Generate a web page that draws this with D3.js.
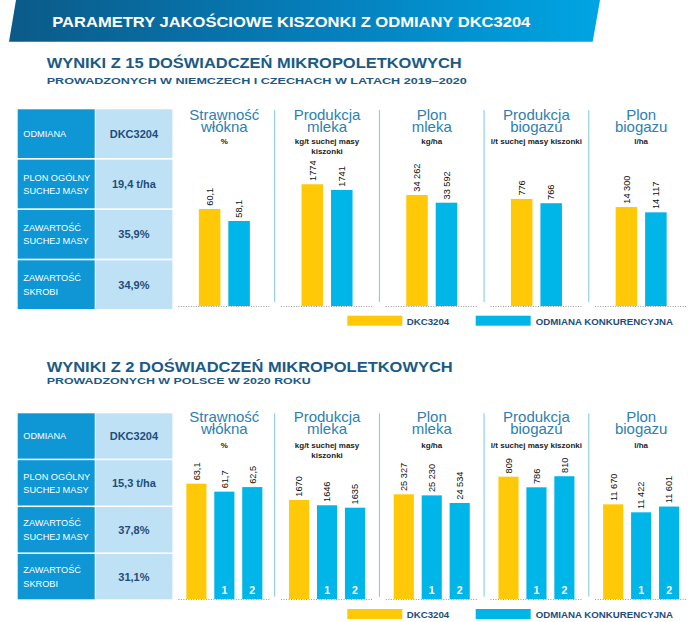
<!DOCTYPE html>
<html><head><meta charset="utf-8">
<script src="https://cdn.jsdelivr.net/npm/d3@7"></script>
<style>body{margin:0;background:#fff}svg{display:block}text{font-family:"Liberation Sans",Arial,sans-serif}</style>
</head><body><svg id="c" width="700" height="622"></svg>
<script>
// ---- data ----
const panelTitles = [["Strawność","włókna"],["Produkcja","mleka"],["Plon","mleka"],["Produkcja","biogazu"],["Plon","biogazu"]];
const panelUnits = [["%"],["kg/t suchej masy","kiszonki"],["kg/ha"],["l/t suchej masy kiszonki"],["l/ha"]];
const seriesNames = ["DKC3204","ODMIANA KONKURENCYJNA"];
const tableLabels = [["ODMIANA"],["PLON OGÓLNY","SUCHEJ MASY"],["ZAWARTOŚĆ","SUCHEJ MASY"],["ZAWARTOŚĆ","SKROBI"]];
const table1Values = ["DKC3204","19,4 t/ha","35,9%","34,9%"];
const table2Values = ["DKC3204","15,3 t/ha","37,8%","31,1%"];
const s1DKC  = [60.1, 1774, 34262, 776, 14300];
const s1Comp = [58.1, 1741, 33592, 766, 14117];
const s2DKC   = [63.1, 1670, 25327, 809, 11670];
const s2Comp1 = [61.7, 1646, 25230, 786, 11422];
const s2Comp2 = [62.5, 1635, 24534, 810, 11601];
const compLabels = ["1","2"];
// truncated (broken) value axes of each small panel
const s1Domains = [[43.93,68.93],[1069,1937.6],[24602,37657],[527,875.8],[10882,16062]];
const s2Domains = [[42.9,69.17],[1220,1901.8],[15783,29457],[543.7,869.1],[8735,13385]];

// ---- style ----
const YEL = "#ffc907", BLU = "#00b5e8", DARK = "#1b5a86", TITLEBLUE = "#2c80b3";
const svg = d3.select("#c");
const defs = svg.append("defs");
const grad = defs.append("linearGradient").attr("id","hg").attr("x1","0").attr("x2","1");
grad.append("stop").attr("offset","0").attr("stop-color","#0b5a88");
grad.append("stop").attr("offset","0.55").attr("stop-color","#0580bd");
grad.append("stop").attr("offset","1").attr("stop-color","#00a5e3");

// header banner
svg.append("path").attr("d","M16,0 L600,0 L592.7,41.7 L9,41.7 Z").attr("fill","url(#hg)");
svg.append("text").attr("x",52.3).attr("y",27.3).attr("fill","#fff").attr("font-weight","bold")
  .attr("font-size",14.8).attr("textLength",478).attr("lengthAdjust","spacingAndGlyphs")
  .text("PARAMETRY JAKOŚCIOWE KISZONKI Z ODMIANY DKC3204");

const fmt = v => (v % 1) ? v.toFixed(1).replace(".", ",") :
  (v >= 10000 ? d3.format(",")(v).replace(/,/g, " ") : String(v));

const px = d3.scaleBand().domain(d3.range(5)).range([170, 693.5]);

function section(cfg) {
  // titles
  svg.append("text").attr("x",46.7).attr("y",cfg.titleY).attr("fill",DARK).attr("font-weight","bold")
    .attr("font-size",14).attr("textLength",cfg.titleW).attr("lengthAdjust","spacingAndGlyphs").text(cfg.title);
  svg.append("text").attr("x",46.7).attr("y",cfg.subY).attr("fill",DARK).attr("font-weight","bold")
    .attr("font-size",9.6).attr("textLength",cfg.subW).attr("lengthAdjust","spacingAndGlyphs").text(cfg.sub);

  // table
  const tx = d3.scaleBand().domain([0,1]).range([17.7, 172.4]).paddingInner(0.009);
  const ty = d3.scaleBand().domain(d3.range(4)).range([cfg.tableTop, cfg.tableBot]).paddingInner(0.033);
  tableLabels.forEach((lines, r) => {
    svg.append("rect").attr("x",tx(0)).attr("y",ty(r)).attr("width",tx.bandwidth()).attr("height",ty.bandwidth()).attr("fill","#0e96d5");
    svg.append("rect").attr("x",tx(1)).attr("y",ty(r)).attr("width",tx.bandwidth()).attr("height",ty.bandwidth()).attr("fill","#bfe1f6");
    const cy = ty(r) + ty.bandwidth()/2;
    const t = svg.append("text").attr("x",23.3).attr("fill","#fff").attr("font-size",9.2);
    lines.forEach((l,i) => t.append("tspan").attr("x",23.3).attr("y", cy + 3.3 + (i - (lines.length-1)/2)*13.3).text(l));
    svg.append("text").attr("x",tx(1)+tx.bandwidth()/2).attr("y",cy+4).attr("text-anchor","middle")
      .attr("fill","#1d4e7b").attr("font-weight","bold").attr("font-size",11).text(cfg.tableValues[r]);
  });

  // panels
  const nS = cfg.series.length;
  const ib = d3.scaleBand().domain(d3.range(nS)).range(nS === 2 ? [-25.5,25.5] : [-38,38]).paddingInner(nS === 2 ? 0.27 : 0.28);
  d3.range(5).forEach(p => {
    const cx = px(p) + px.bandwidth()/2 + (p === 0 ? 2 : 0);
    const y = d3.scaleLinear().domain(cfg.domains[p]).range([cfg.baseline, cfg.baseline - 150]);
    if (p > 0) svg.append("line").attr("x1",px(p)).attr("x2",px(p)).attr("y1",cfg.sepTop).attr("y2",cfg.sepBot)
      .attr("stroke","#7fc6e6").attr("stroke-width",1);
    // title (two separate lines)
    panelTitles[p].forEach((l,i) => svg.append("text").attr("x",cx).attr("y",cfg.ptY + i*12)
      .attr("text-anchor","middle").attr("fill",TITLEBLUE)
      .attr("font-family","Roboto, 'Liberation Sans', sans-serif").attr("font-weight",300).attr("font-size",15).text(l));
    const ut = svg.append("text").attr("text-anchor","middle").attr("fill","#222").attr("font-weight","bold").attr("font-size",8);
    panelUnits[p].forEach((l,i) => ut.append("tspan").attr("x",cx).attr("y",cfg.unitY + i*10).text(l));
    // baseline
    svg.append("line").attr("x1",cx-46).attr("x2",cx+46).attr("y1",cfg.baseline+0.5).attr("y2",cfg.baseline+0.5)
      .attr("stroke","#9a9a9a").attr("stroke-dasharray","1,1.5");
    cfg.series.forEach((arr, s) => {
      const v = arr[p];
      const bx = cx + ib(s);
      svg.append("rect").attr("x",bx).attr("y",y(v)).attr("width",ib.bandwidth()).attr("height",cfg.baseline - y(v))
        .attr("fill", s === 0 ? YEL : BLU);
      svg.append("text").attr("transform",`translate(${bx + ib.bandwidth()/2 + 3.3},${y(v) - 3.3}) rotate(-90)`)
        .attr("font-size",9.2).attr("fill","#111").text(fmt(v));
      if (cfg.inside && s > 0) {
        svg.append("text").attr("x",bx + ib.bandwidth()/2).attr("y",cfg.baseline - 5.5).attr("text-anchor","middle")
          .attr("fill","#fff").attr("font-weight","bold").attr("font-size",10.5).text(compLabels[s-1]);
      }
    });
  });

  // legend
  const lg = [[347.3, YEL, 406.7],[475.7, BLU, 535.7]];
  lg.forEach((d,i) => {
    svg.append("rect").attr("x",d[0]).attr("y",cfg.legY).attr("width",55).attr("height",10).attr("fill",d[1]);
    svg.append("text").attr("x",d[2]).attr("y",cfg.legY+8.8).attr("fill","#1d4e7b").attr("font-weight","bold")
      .attr("font-size",9.7).text(seriesNames[i]);
  });
}

section({title:"WYNIKI Z 15 DOŚWIADCZEŃ MIKROPOLETKOWYCH", titleW:415, titleY:68.3,
  sub:"PROWADZONYCH W NIEMCZECH I CZECHACH W LATACH 2019–2020", subW:420, subY:84.3,
  tableTop:109.3, tableBot:309, tableValues:table1Values,
  ptY:119.5, unitY:144.3, sepTop:110, sepBot:302, baseline:306, legY:315.7,
  series:[s1DKC, s1Comp], domains:s1Domains, inside:false});

section({title:"WYNIKI Z 2 DOŚWIADCZEŃ MIKROPOLETKOWYCH", titleW:406, titleY:372.3,
  sub:"PROWADZONYCH W POLSCE W 2020 ROKU", subW:264, subY:384,
  tableTop:413.3, tableBot:599.3, tableValues:table2Values,
  ptY:421.5, unitY:447.7, sepTop:413.3, sepBot:596.7, baseline:599, legY:609,
  series:[s2DKC, s2Comp1, s2Comp2], domains:s2Domains, inside:true});
</script></body></html>
